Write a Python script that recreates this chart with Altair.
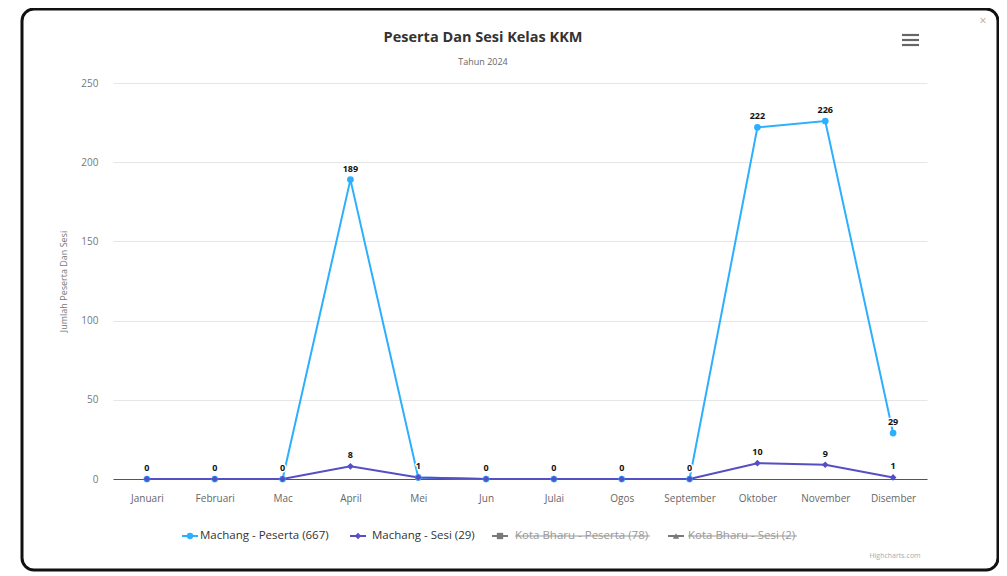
import altair as alt
import pandas as pd

months = ["Januari", "Februari", "Mac", "April", "Mei", "Jun", "Julai", "Ogos",
          "September", "Oktober", "November", "Disember"]
peserta = [0, 0, 0, 189, 1, 0, 0, 0, 0, 222, 226, 29]
sesi = [0, 0, 0, 8, 1, 0, 0, 0, 0, 10, 9, 1]
series_names = ["Machang - Peserta", "Machang - Sesi", "Kota Bharu - Peserta", "Kota Bharu - Sesi"]
series_totals = [667, 29, 78, 2]
series_colors = ["#2caffe", "#544fc5"]
y_ticks = [0, 50, 100, 150, 200, 250]

FONT = "Open Sans"

rows = []
labels = []
for m, p, s in zip(months, peserta, sesi):
    rows.append({"bulan": m, "siri": series_names[0], "nilai": p})
    rows.append({"bulan": m, "siri": series_names[1], "nilai": s})
    labels.append({"bulan": m, "siri": series_names[0], "nilai": p})
    if abs(p - s) > 5:
        labels.append({"bulan": m, "siri": series_names[1], "nilai": s})
df = pd.DataFrame(rows)
dl = pd.DataFrame(labels)

W, H = 814, 396

x_enc = alt.X("bulan:N", sort=months,
              scale=alt.Scale(type="point", padding=0.5),
              axis=alt.Axis(title=None, labelAngle=0, ticks=False, grid=False,
                            domainColor="#555", domainWidth=1,
                            labelColor="#666", labelFontSize=10, labelPadding=14,
                            labelFont=FONT))
y_enc = alt.Y("nilai:Q", scale=alt.Scale(domain=[0, 250], nice=False),
              axis=alt.Axis(values=y_ticks, title="Jumlah Peserta Dan Sesi",
                            titleColor="#777", titleFontSize=9, titleFontWeight="normal",
                            titleFont=FONT, titlePadding=12,
                            domain=False, ticks=False, gridColor="#e6e6e6",
                            labelColor="#777", labelFontSize=10, labelPadding=15,
                            labelFont=FONT))
color_enc = alt.Color("siri:N", scale=alt.Scale(domain=series_names[:2], range=series_colors),
                      legend=None)

base = alt.Chart(df)
lines = base.mark_line(strokeWidth=2).encode(x=x_enc, y=y_enc, color=color_enc, order=alt.value(0))
points = base.mark_point(filled=True, size=45, opacity=1).encode(
    x=x_enc, y=y_enc, color=color_enc,
    shape=alt.Shape("siri:N", scale=alt.Scale(domain=series_names[:2], range=["circle", "diamond"]),
                    legend=None))

lab_base = alt.Chart(dl)
halo = lab_base.mark_text(font=FONT, fontSize=9, fontWeight="bold", dy=-8, baseline="alphabetic",
                          stroke="white", strokeWidth=3, strokeJoin="round", fill="white").encode(
    x=x_enc, y=y_enc, text="nilai:Q")
txt = lab_base.mark_text(font=FONT, fontSize=9, fontWeight="bold", dy=-8, baseline="alphabetic",
                         color="#111").encode(x=x_enc, y=y_enc, text="nilai:Q")

one = alt.Data(values=[{}])
deco = []
# frame
deco.append(alt.Chart(one).mark_rect(filled=False, stroke="#111", strokeWidth=3, cornerRadius=12).encode(
    x=alt.value(-91), x2=alt.value(885), y=alt.value(-74), y2=alt.value(487)))
# close mark
deco.append(alt.Chart(one).mark_text(text="×", font=FONT, fontSize=12, color="#aaa",
                                     align="center", baseline="middle").encode(
    x=alt.value(870), y=alt.value(-62)))
# title / subtitle
deco.append(alt.Chart(one).mark_text(text="Peserta Dan Sesi Kelas KKM", font=FONT, fontSize=14.5,
                                     fontWeight="bold", color="#333", align="center",
                                     baseline="middle").encode(x=alt.value(370), y=alt.value(-45)))
deco.append(alt.Chart(one).mark_text(text="Tahun 2024", font=FONT, fontSize=9, color="#666",
                                     align="center", baseline="middle").encode(
    x=alt.value(370), y=alt.value(-21)))
# hamburger
for yy in [-48, -43, -38]:
    deco.append(alt.Chart(one).mark_rule(color="#666", strokeWidth=2.2).encode(
        x=alt.value(789), x2=alt.value(806), y=alt.value(yy)))
# credits
deco.append(alt.Chart(one).mark_text(text="Highcharts.com", font=FONT, fontSize=7, color="#aaa",
                                     align="center", baseline="middle").encode(
    x=alt.value(782), y=alt.value(473)))

# legend
leg_y = 453
leg_sym_x = [77, 245, 387, 563]
leg_txt_x = [87, 259, 402, 575]
leg_txt_end = [None, None, 537, 684]
leg_shapes = ["circle", "diamond", "square", "triangle-up"]
leg_colors = series_colors + ["#7a7a7a", "#7a7a7a"]
leg_txt_colors = ["#333", "#333", "#999", "#999"]
for i, name in enumerate(series_names):
    cx = leg_sym_x[i]
    deco.append(alt.Chart(one).mark_rule(color=leg_colors[i], strokeWidth=2).encode(
        x=alt.value(cx - 8), x2=alt.value(cx + 8), y=alt.value(leg_y)))
    deco.append(alt.Chart(one).mark_point(shape=leg_shapes[i], filled=True, size=40, opacity=1,
                                          color=leg_colors[i]).encode(
        x=alt.value(cx), y=alt.value(leg_y)))
    deco.append(alt.Chart(one).mark_text(text=f"{name} ({series_totals[i]})", font=FONT, fontSize=11.5,
                                         color=leg_txt_colors[i], align="left",
                                         baseline="middle").encode(
        x=alt.value(leg_txt_x[i]), y=alt.value(leg_y)))
    if leg_txt_end[i] is not None:
        deco.append(alt.Chart(one).mark_rule(color="#999", strokeWidth=1).encode(
            x=alt.value(leg_txt_x[i]), x2=alt.value(leg_txt_end[i]), y=alt.value(leg_y)))

chart = alt.layer(lines, points, halo, txt, *deco).properties(
    width=W, height=H,
    autosize=alt.AutoSizeParams(type="none"),
    padding={"left": 105, "top": 75, "right": 72, "bottom": 94},
    background="white",
).configure_view(stroke=None)

chart.save("out.html", embed_options={"renderer": "svg", "actions": False})
